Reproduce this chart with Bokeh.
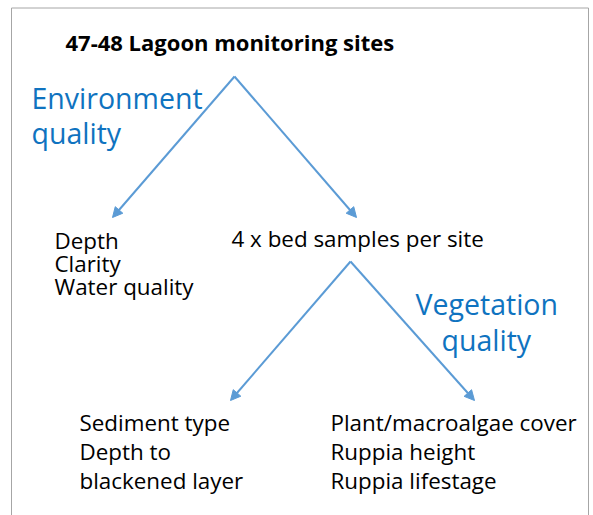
from bokeh.plotting import figure
from bokeh.models import Range1d, Arrow, NormalHead, ColumnDataSource
from bokeh.core.properties import value
from bokeh.embed import file_html
from bokeh.resources import INLINE

# ---- content ----
title_text = ["47-48 Lagoon monitoring sites"]
env_label = ["Environment", "quality"]
veg_label = ["Vegetation", "quality"]
left_mid = ["Depth", "Clarity", "Water quality"]
centre_mid = ["4 x bed samples per site"]
bottom_left = ["Sediment type", "Depth to", "blackened layer"]
bottom_right = ["Plant/macroalgae cover", "Ruppia height", "Ruppia lifestage"]

# ---- layout (pixel-like diagram coordinates) ----
title_pos = (65, 41.5)
env_x = [31, 31]; env_y = [97, 132]
veg_x = [415, 441]; veg_y = [303, 339]
lm_x = [54, 54, 54]; lm_y = [240, 263, 286]
cm_x = [231]; cm_y = [238]
bl_x = [79, 79, 79]; bl_y = [422, 451, 480]
br_x = [330, 330, 330]; br_y = [422, 451, 480]

arrow_x0 = [234, 234, 350, 350]
arrow_y0 = [76, 76, 261, 261]
arrow_x1 = [112, 356, 230, 474]
arrow_y1 = [217, 217, 400, 400]

BLUE_TEXT = "#0F73C0"
BLUE_LINE = "#5B9BD5"
FONT = "Open Sans"

p = figure(width=593, height=515, output_backend="svg", toolbar_location=None,
           x_range=Range1d(0, 593), y_range=Range1d(515, 0),
           min_border=0, outline_line_color=None)
p.axis.visible = False
p.grid.visible = False
p.background_fill_color = "white"
p.border_fill_color = "white"

# frame
p.line(x=[11, 11, 588, 588], y=[520, 7.5, 7.5, 520], line_color="#A6A6A6", line_width=1)

# arrows
src = ColumnDataSource(dict(x0=arrow_x0, y0=arrow_y0, x1=arrow_x1, y1=arrow_y1))
p.add_layout(Arrow(x_start="x0", y_start="y0", x_end="x1", y_end="y1", source=src,
                   line_color=BLUE_LINE, line_width=2,
                   end=NormalHead(size=10, fill_color=BLUE_LINE, line_color=BLUE_LINE)))

def txt(xs, ys, labels, size, color, style="normal"):
    p.text(x=xs, y=ys, text=labels, text_font=value(FONT), text_font_size=size,
           text_color=color, text_baseline="middle", text_align="left",
           text_font_style=style)

txt([title_pos[0]], [title_pos[1]], title_text, "22px", "black", "bold")
txt(env_x, env_y, env_label, "28.5px", BLUE_TEXT)
txt(veg_x, veg_y, veg_label, "28.5px", BLUE_TEXT)
txt(lm_x, lm_y, left_mid, "22.4px", "black")
txt(cm_x, cm_y, centre_mid, "22.4px", "black")
txt(bl_x, bl_y, bottom_left, "22.4px", "black")
txt(br_x, br_y, bottom_right, "22.4px", "black")

open("out.html", "w").write(file_html(p, INLINE))
